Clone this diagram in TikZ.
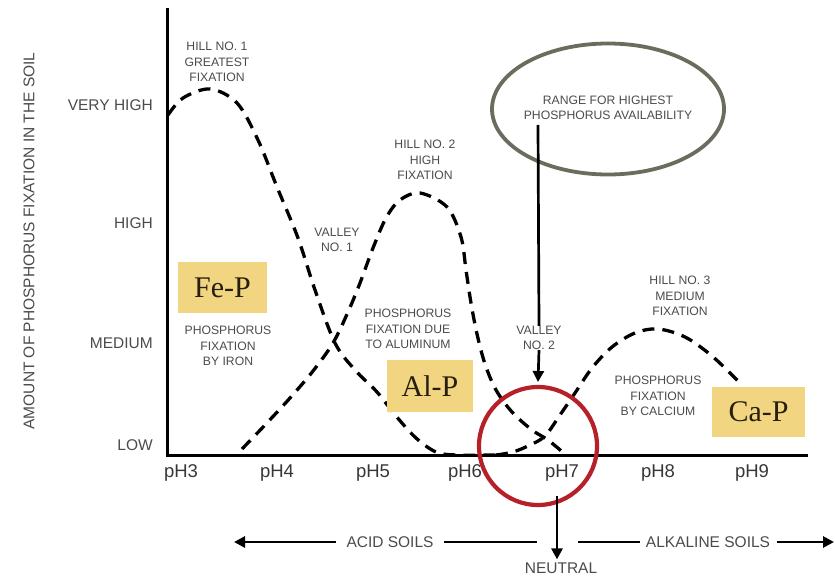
\documentclass[tikz,border=0pt]{standalone}
\usepackage{fontspec}
\setmainfont{Liberation Sans}
\newfontfamily\boxserif{Liberation Serif}
\usetikzlibrary{arrows.meta,shapes.geometric}
\definecolor{txtgray}{RGB}{75,75,75}
\definecolor{phgray}{RGB}{55,55,55}
\definecolor{boxyellow}{RGB}{241,213,128}
\definecolor{ellgray}{RGB}{108,108,94}
\definecolor{ringred}{RGB}{182,32,40}
\definecolor{boxtext}{RGB}{40,30,15}
\tikzset{
  small/.style={font=\fontsize{12.2}{15.5}\selectfont, align=center, text=txtgray, inner sep=0pt},
  axlab/.style={font=\fontsize{15.5}{18}\selectfont, text=txtgray, inner sep=0pt},
  phlab/.style={font=\fontsize{18.5}{20}\selectfont, text=phgray, inner sep=0pt},
  elem/.style={fill=boxyellow, font=\boxserif\fontsize{30}{32}\selectfont, text=boxtext, inner sep=0pt},
  curve/.style={line width=3.3pt, dash pattern=on 12pt off 8pt, black},
  axisline/.style={line width=3pt, black},
  thinarrow/.style={line width=2.7pt, black, -{Triangle[length=11pt,width=11pt]}},
  thinline/.style={line width=2.7pt, black},
}
\begin{document}
\begin{tikzpicture}[x=1pt,y=-1pt]
\useasboundingbox (0,0) rectangle (835,583);
% axes
\coordinate (top) at (167,8);
\coordinate (origin) at (167,455);
\coordinate (xend) at (808,455);
\draw[axisline] (top) -- (origin) -- (xend);
% y-axis title
\node[axlab, rotate=90] (ytitle) at (29,241) {AMOUNT OF PHOSPHORUS FIXATION IN THE SOIL};
% y labels
\node[axlab, anchor=east] (vh) at (153,105) {VERY HIGH};
\node[axlab, anchor=east] (hi) at (153,223) {HIGH};
\node[axlab, anchor=east] (me) at (153,343) {MEDIUM};
\node[axlab, anchor=east] (lo) at (153,445) {LOW};
% x labels
\node[phlab] (ph3) at (181,473) {pH3};
\node[phlab] (ph4) at (277,473) {pH4};
\node[phlab] (ph5) at (373,473) {pH5};
\node[phlab] (ph6) at (465,473) {pH6};
\node[phlab] (ph7) at (562,473) {pH7};
\node[phlab] (ph8) at (658,473) {pH8};
\node[phlab] (ph9) at (752,473) {pH9};
% curves
\draw[curve] plot[smooth, tension=0.55] coordinates {(168,115) (183,98) (210,89) (237,103) (258,140) (277,187) (298,238) (315,290) (335,343) (355,370) (377,392) (396,416) (416,438) (436,452) (456,455) (496,455)};
\draw[curve] plot[smooth, tension=0.55] coordinates {(242,449) (265,425) (290,398) (313,371) (333,343) (348,312) (360,283) (373,248) (386,218) (400,200) (420,193) (447,207) (461,237) (466,270) (471,303) (477,334) (485,364) (496,390) (512,412) (532,430) (548,440) (566,455)};
\draw[curve] plot[smooth, tension=0.55] coordinates {(496,455) (513,452) (530,445) (545,436) (560,415) (575,393) (592,368) (612,347) (635,333) (658,329) (685,337) (712,356) (738,381)};
% labels on chart
\node[small] (hill1) at (217,62) {HILL NO. 1\\GREATEST\\FIXATION};
\node[small] (valley1) at (337,240) {VALLEY\\NO. 1};
\node[small] (hill2) at (425,160) {HILL NO. 2\\HIGH\\FIXATION};
\node[small] (feinfo) at (228,346) {PHOSPHORUS\\FIXATION\\BY IRON};
\node[small] (alinfo) at (408,329) {PHOSPHORUS\\FIXATION DUE\\TO ALUMINUM};
\node[small] (hill3) at (680,296) {HILL NO. 3\\MEDIUM\\FIXATION};
\node[small] (cainfo) at (658,396) {PHOSPHORUS\\FIXATION\\BY CALCIUM};
% element boxes
\node[elem, minimum width=89pt, minimum height=51pt] (fep) at (222.5,287.5) {Fe-P};
\node[elem, minimum width=86pt, minimum height=52pt] (alp) at (430,386) {Al-P};
\node[elem, minimum width=93pt, minimum height=50pt] (cap) at (758.5,412) {Ca-P};
% ellipse
\node[draw=ellgray, line width=3.8pt, ellipse, minimum width=232pt, minimum height=131pt] (range) at (608,109) {};
\node[small] (rangetxt) at (608,108) {RANGE FOR HIGHEST\\PHOSPHORUS AVAILABILITY};
% valley 2 and pointer
\node[small] (valley2) at (539,338) {VALLEY\\NO. 2};
\coordinate (ptrtop) at (538,125);
\coordinate (ptrend) at (538,382);
\draw[thinline] (ptrtop) -- (valley2.north);
\draw[thinarrow] (valley2.south) -- (ptrend);
% red ring
\node[draw=ringred, line width=4.2pt, circle, minimum size=118pt, inner sep=0pt] (ring) at (538,446) {};
% bottom arrows
\node[axlab] (neutral) at (561,568) {NEUTRAL};
\coordinate (neutop) at (557,496);
\draw[thinarrow] (neutop) -- ([xshift=-4pt,yshift=3pt]neutral.north);
\node[axlab] (acid) at (390,542) {ACID SOILS};
\node[axlab] (alk) at (708,542) {ALKALINE SOILS};
\coordinate (acidend) at (234,542);
\coordinate (acidR) at (537,542);
\coordinate (alkL) at (578,542);
\coordinate (alkend) at (834,542);
\draw[thinarrow] ([xshift=-10pt]acid.west) -- (acidend);
\draw[thinline] ([xshift=10pt]acid.east) -- (acidR);
\draw[thinline] (alkL) -- ([xshift=-6pt]alk.west);
\draw[thinarrow] ([xshift=7pt]alk.east) -- (alkend);
\end{tikzpicture}
\end{document}
